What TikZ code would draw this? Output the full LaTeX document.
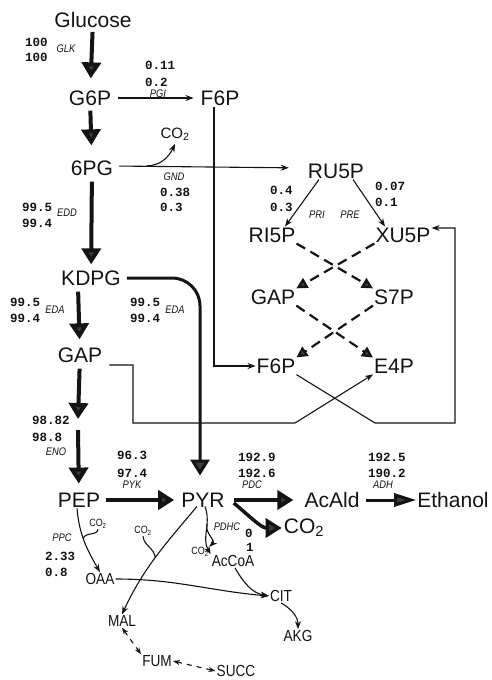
\documentclass[tikz,border=0pt]{standalone}
\usepackage{fontspec}
\setmainfont{Liberation Sans}
\newfontfamily\narrowsf[FakeStretch=0.85]{Liberation Sans}
\newfontfamily\nummono{Liberation Mono}
\usetikzlibrary{arrows.meta,positioning}
\definecolor{ink}{RGB}{20,20,20}
\definecolor{headgray}{RGB}{60,60,62}

\begin{document}
\begin{tikzpicture}[x=1pt, y=-1pt,
  met/.style={font=\fontsize{21}{24}\selectfont, text=ink, inner sep=1pt},
  smet/.style={font=\narrowsf\fontsize{16}{18}\selectfont, text=ink, inner sep=1pt},
  sco/.style={font=\narrowsf\fontsize{10.5}{12}\selectfont, text=ink, inner sep=0.5pt},
  num/.style={font=\nummono\bfseries\fontsize{12.5}{14}\selectfont, text=ink, anchor=west, inner sep=0pt},
  enz/.style={font=\narrowsf\itshape\fontsize{11}{12}\selectfont, text=ink, inner sep=0pt},
  flux/.style={draw=ink, line width=4pt, -{Triangle[length=16pt,width=19pt,fill=headgray]}},
  thin/.style={draw=ink, line width=1.1pt, -{Stealth[length=8pt,width=6pt]}},
  plain/.style={draw=ink, line width=1.1pt},
  dflux/.style={draw=ink, line width=2.2pt, dash pattern=on 10pt off 6pt, -{Triangle[length=11pt,width=11pt,fill=headgray]}},
  dtca/.style={draw=ink, line width=1.1pt, dash pattern=on 5pt off 5pt, {Stealth[length=7pt,width=5pt]}-{Stealth[length=7pt,width=5pt]}}]
\useasboundingbox[fill=white] (0,0) rectangle (491,680);

% main metabolites
\node[met] (glc) at (93,20) {Glucose};
\node[met] (g6p) at (90,98) {G6P};
\node[met] (f6p) at (220,98) {F6P};
\node[met] (pg6) at (92,168) {6PG};
\node[met] (kdpg) at (91,278) {KDPG};
\node[met] (gap) at (80,355) {GAP};
\node[met] (pep) at (79,500) {PEP};
\node[met] (pyr) at (203,500) {PYR};
\node[met] (acald) at (332,500) {AcAld};
\node[met] (etoh) at (453,500) {Ethanol};
\node[met] (co2c) at (304,528) {CO\textsubscript{2}};
\node[font=\fontsize{15}{17}\selectfont, text=ink] (co2a) at (175,134) {CO\textsubscript{2}};

% pentose phosphate part
\node[met] (ru5p) at (336,171) {RU5P};
\node[met] (ri5p) at (272,235) {RI5P};
\node[met] (xu5p) at (403,235) {XU5P};
\node[met] (gapb) at (273,297) {GAP};
\node[met] (s7p) at (394,297) {S7P};
\node[met] (f6pb) at (276,366) {F6P};
\node[met] (e4p) at (394,366) {E4P};

% TCA side
\node[smet] (oaa) at (100,579) {OAA};
\node[smet] (acoa) at (233,561) {AcCoA};
\node[smet] (cit) at (281,596) {CIT};
\node[smet] (akg) at (298,636) {AKG};
\node[smet] (mal) at (122,621) {MAL};
\node[smet] (fum) at (157,661) {FUM};
\node[smet] (succ) at (236,671) {SUCC};
\node[sco] (co2p) at (98,524) {CO\textsubscript{2}};
\node[sco] (co2m) at (143,531) {CO\textsubscript{2}};
\node[sco] (co2d) at (200,552) {CO\textsubscript{2}};

% flux values
\foreach \x/\y/\t [count=\i] in {25/42/100, 25/57/100, 145/65/0.11, 145/82/0.2,
    160/192/0.38, 160/207/0.3, 22/207/99.5, 22/223/99.4, 270/190/0.4, 270/207/0.3,
    375/186/0.07, 375/202/0.1, 10/302/99.5, 10/318/99.4, 130/302/99.5, 130/318/99.4,
    32/420/98.82, 32/437/98.8, 117/455/96.3, 117/473/97.4, 45/556/2.33, 45/572/0.8,
    238/457/192.9, 238/473/192.6, 368/457/192.5, 368/473/190.2, 245/533/0, 246/547/1}
  \node[num] (fl\i) at (\x,\y) {\t};

% enzymes
\foreach \x/\y/\t [count=\i] in {66/49/GLK, 158/94/PGI, 174/177/GND, 67/213/EDD,
    317/215/PRI, 350/215/PRE, 55/310/EDA, 175/310/EDA, 56/452/ENO, 132/485/PYK,
    62/538/PPC, 252/485/PDC, 383/485/ADH, 227/527/PDHC}
  \node[enz] (ez\i) at (\x,\y) {\t};

% glycolysis / ED trunk
\draw[flux, shorten <=3pt, shorten >=11pt] (glc) -- (g6p);
\draw[flux, shorten <=4pt, shorten >=14pt] (g6p) -- (pg6);
\draw[flux, shorten <=5pt, shorten >=5pt] (pg6) -- (kdpg);
\draw[flux, shorten <=5pt, shorten >=7pt] ([xshift=-13pt]kdpg.south) -- (gap);
\coordinate (enoa) at (78,419);
\coordinate (enob) at (78,430);
\draw[flux, shorten <=5pt] (gap) -- (enoa);
\draw[flux, shorten >=8pt] (enob) -- (pep);
\draw[flux, shorten <=5pt, shorten >=6pt] (pep) -- (pyr);
\draw[flux, line width=3pt, rounded corners=28pt, shorten <=5pt, shorten >=16pt] (kdpg.east) -| ([xshift=-3pt]pyr.north);
\draw[flux, shorten <=8pt, shorten >=10pt] (pyr) -- (acald);
\draw[flux, line width=3pt, -{Triangle[length=22pt,width=13pt,fill=headgray]}, shorten <=5pt] (acald) -- (etoh.west);
\draw[flux, line width=3.5pt, shorten >=1pt] ([xshift=8pt,yshift=-3pt]pyr.east) to[out=-40,in=180] (co2c.west);

% oxidative branch
\draw[thin, shorten <=6pt, shorten >=6pt] (g6p) -- (f6p);
\draw[thin, shorten <=5pt, shorten >=18pt] ([yshift=2pt]pg6.east) -- ([yshift=3pt]ru5p.west);
\coordinate (gndb) at (146,166);
\draw[thin] (gndb) to[out=0,in=-115] (co2a.south);
\draw[thin] ([xshift=-6pt]f6p.south) |- (f6pb.west);
\draw[thin] ([xshift=-17pt]ru5p.south) -- ([xshift=13pt]ri5p.north);
\draw[thin] ([xshift=17pt]ru5p.south) -- ([xshift=-18pt]xu5p.north);

% non-oxidative exchange
\draw[dflux] (ri5p.south east) -- (s7p.north west);
\draw[dflux] (xu5p.south west) -- (gapb.north east);
\draw[dflux] (gapb.south east) -- (e4p.north west);
\draw[dflux] (s7p.south west) -- (f6pb.north east);

% returns to XU5P and E4P
\coordinate (lpa) at (375,423);
\coordinate (lpb) at (455,423);
\draw[thin] (f6pb.south east) -- (lpa) -- (lpb) |- ([yshift=7pt]xu5p.east);
\coordinate (gpa) at (133,423);
\coordinate (gpb) at (295,423);
\draw[thin] ([yshift=-10pt,xshift=6pt]gap.east) -| (gpa) -- (gpb) -- (e4p.south west);

% anaplerosis and TCA
\draw[thin] ([xshift=-2pt]pep.south) to[out=-85,in=120] coordinate[pos=0.45] (pepj) (oaa.north);
\draw[plain] (co2p.south) to[out=-95,in=80] (pepj);
\draw[thin] ([xshift=-6pt,yshift=2pt]pyr.south) to[out=-130,in=65] coordinate[pos=0.5] (malj) (mal.north);
\draw[plain] (co2m.south) to[out=-85,in=95] (malj);
\draw[thin] ([xshift=2pt,yshift=2pt]pyr.south) to[out=-70,in=120] coordinate[pos=0.35] (acj) (acoa.north west);
\draw[thin] (acj) to[out=-110,in=45] (co2d.north east);
\draw[thin] ([xshift=2pt]acoa.south) to[out=-60,in=170] (cit.west);
\draw[thin] (oaa.east) to[out=0,in=175] (cit.west);
\draw[thin] (cit.south) to[out=-30,in=90] (akg.north);
\draw[dtca] (mal.south) -- (fum.north west);
\draw[dtca] (fum.east) -- (succ.west);
\end{tikzpicture}
\end{document}
